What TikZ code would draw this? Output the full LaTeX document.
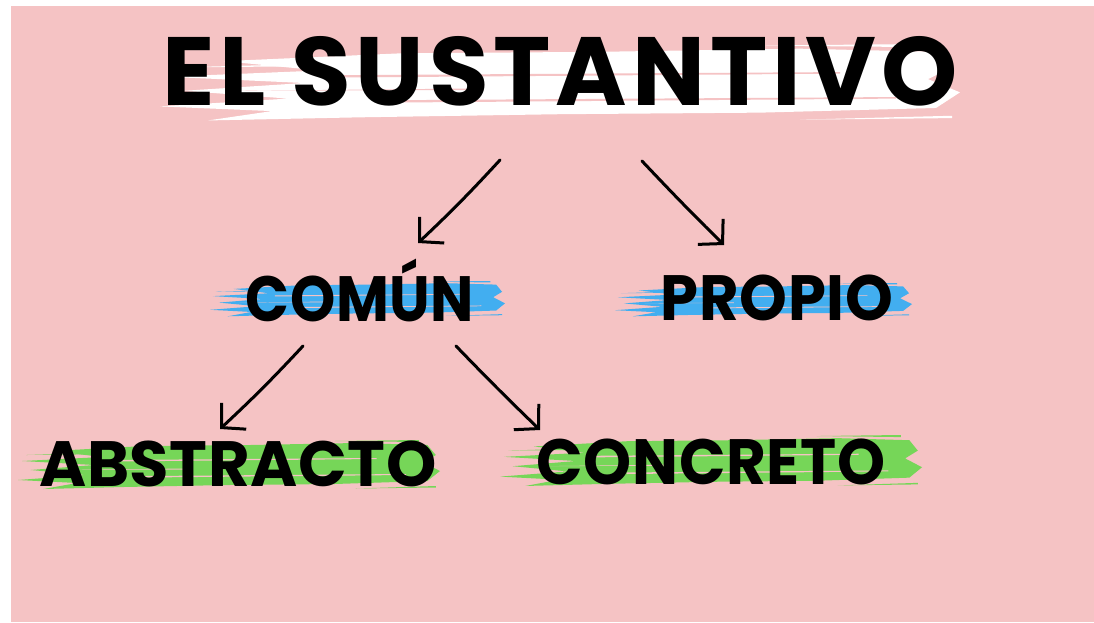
\documentclass[tikz,border=0pt]{standalone}
\usepackage{fontspec}
\usepackage{graphicx}
\usetikzlibrary{arrows.meta}
\newfontfamily\titlefont{Poppins}[LetterSpace=5]
\newfontfamily\labelfont{Poppins}[LetterSpace=1]
\definecolor{bgpink}{RGB}{245,195,196}
\definecolor{brushblue}{RGB}{66,174,240}
\definecolor{brushgreen}{RGB}{118,214,88}
\tikzset{
  brush/.pic={
    \fill[#1] (0.08,0.22) -- (0.30,0.12) -- (0.55,0.10) -- (0.80,0.06) -- (0.97,0.10)
      -- (0.99,0.30) -- (0.96,0.45) -- (1.00,0.62) -- (0.97,0.82) -- (0.75,0.88)
      -- (0.50,0.90) -- (0.25,0.94) -- (0.06,0.98) -- (0.14,0.86) -- (0.00,0.80)
      -- (0.16,0.70) -- (0.03,0.60) -- (0.18,0.50) -- (0.01,0.42) -- (0.20,0.34) -- cycle;
    \fill[#1] (0.02,0.30) -- (0.25,0.24) -- (0.25,0.28) -- cycle;
    \fill[#1] (0.75,0.02) -- (0.95,0.00) -- (0.95,0.04) -- cycle;
    \fill[#1] (0.80,0.97) -- (0.99,0.92) -- (0.99,0.95) -- cycle;
    \fill[bgpink] (0.22,0.40) -- (0.85,0.36) -- (0.85,0.38) -- (0.22,0.43) -- cycle;
    \fill[bgpink] (0.30,0.72) -- (0.92,0.68) -- (0.92,0.70) -- (0.30,0.75) -- cycle;
    \fill[bgpink] (0.10,0.60) -- (0.40,0.57) -- (0.40,0.59) -- cycle;
  },
  titletext/.style={font=\titlefont\bfseries\fontsize{97}{100}\selectfont, text=black, inner sep=0pt},
  lbl/.style={font=\labelfont\bfseries\fontsize{64}{70}\selectfont, text=black, inner sep=0pt},
  arr/.style={line width=3pt, line cap=round, line join=round,
    -{Straight Barb[length=17pt,width=36pt]}}
}
\begin{document}
\begin{tikzpicture}[x=1pt,y=-1pt]
\useasboundingbox (0,0) rectangle (1094,622);
\fill[white] (0,0) rectangle (1094,622);
\fill[bgpink] (11,6) rectangle (1094,622);
% brush strokes
\pic[xscale=800,yscale=78] at (160,44) {brush=white};
\pic[xscale=295,yscale=36] at (210,281) {brush=brushblue};
\pic[xscale=297,yscale=34] at (615,283) {brush=brushblue};
\pic[xscale=422,yscale=50] at (18,440) {brush=brushgreen};
\pic[xscale=422,yscale=52] at (500,435) {brush=brushgreen};
% texts
\node[titletext, anchor=base] (title) at (560,105) {EL SUSTANTIVO};
\node[lbl, anchor=base] (comun) at (360,321) {\scalebox{0.9}[1]{COMÚN}};
\node[lbl, anchor=base] (propio) at (777,320) {\scalebox{0.95}[1]{PROPIO}};
\node[lbl, anchor=base] (abstracto) at (238,486) {ABSTRACTO};
\node[lbl, anchor=base] (concreto) at (711,484) {\scalebox{0.955}[1]{CONCRETO}};
% arrows
\coordinate (s1) at (500,160); \coordinate (e1) at (418,243);
\coordinate (s2) at (642,161); \coordinate (e2) at (724,245);
\coordinate (s3) at (303,346); \coordinate (e3) at (220,429);
\coordinate (s4) at (456,346); \coordinate (e4) at (540,430);
\draw[arr] (s1) to[bend left=2] (e1);
\draw[arr] (s2) to[bend right=1] (e2);
\draw[arr] (s3) to[bend left=2] (e3);
\draw[arr] (s4) to[bend right=1] (e4);
\end{tikzpicture}
\end{document}
